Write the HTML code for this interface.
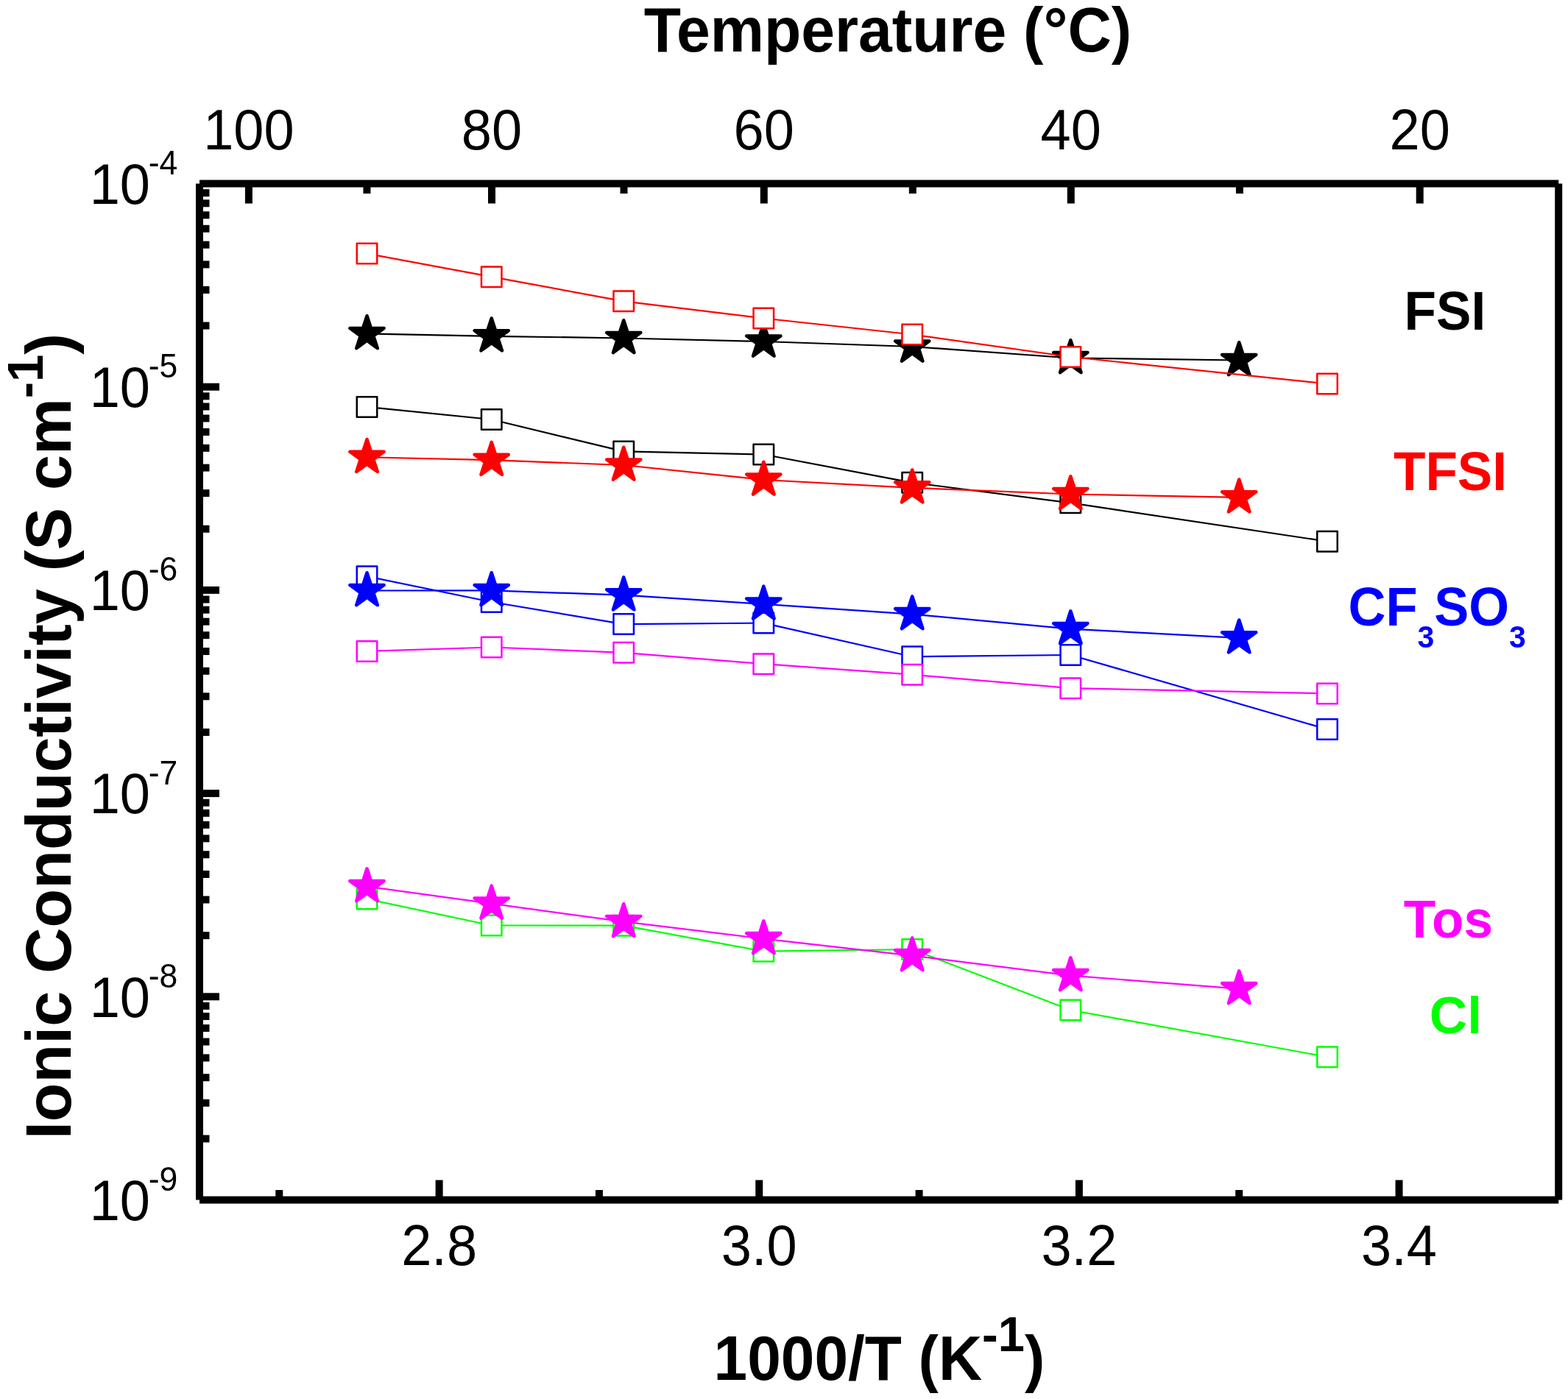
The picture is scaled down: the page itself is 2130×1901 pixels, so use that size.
<!DOCTYPE html>
<html><head><meta charset="utf-8"><title>Ionic Conductivity</title>
<style>html,body{margin:0;padding:0;background:#fff;}body{width:2130px;height:1901px;overflow:hidden;}svg{display:block;}</style>
</head><body>
<svg width="2130" height="1901" viewBox="0 0 2130 1901">
<rect x="0" y="0" width="2130" height="1901" fill="#fff"/>
<polyline points="498.5,453.5 667.7,456.8 847.2,459.5 1037.3,464.0 1239.2,471.0 1454.3,486.5 1683.2,489.5" fill="none" stroke="#000000" stroke-width="2.2" stroke-linejoin="round"/>
<path d="M498.50,429.20 L503.96,445.99 L521.61,445.99 L507.33,456.37 L512.78,473.16 L498.50,462.78 L484.22,473.16 L489.67,456.37 L475.39,445.99 L493.04,445.99 Z" fill="#000000" stroke="#000000" stroke-width="4.5" stroke-linejoin="round"/>
<path d="M667.70,432.50 L673.16,449.29 L690.81,449.29 L676.53,459.67 L681.98,476.46 L667.70,466.08 L653.42,476.46 L658.87,459.67 L644.59,449.29 L662.24,449.29 Z" fill="#000000" stroke="#000000" stroke-width="4.5" stroke-linejoin="round"/>
<path d="M847.20,435.20 L852.66,451.99 L870.31,451.99 L856.03,462.37 L861.48,479.16 L847.20,468.78 L832.92,479.16 L838.37,462.37 L824.09,451.99 L841.74,451.99 Z" fill="#000000" stroke="#000000" stroke-width="4.5" stroke-linejoin="round"/>
<path d="M1037.30,439.70 L1042.76,456.49 L1060.41,456.49 L1046.13,466.87 L1051.58,483.66 L1037.30,473.28 L1023.02,483.66 L1028.47,466.87 L1014.19,456.49 L1031.84,456.49 Z" fill="#000000" stroke="#000000" stroke-width="4.5" stroke-linejoin="round"/>
<path d="M1239.20,446.70 L1244.66,463.49 L1262.31,463.49 L1248.03,473.87 L1253.48,490.66 L1239.20,480.28 L1224.92,490.66 L1230.37,473.87 L1216.09,463.49 L1233.74,463.49 Z" fill="#000000" stroke="#000000" stroke-width="4.5" stroke-linejoin="round"/>
<path d="M1454.30,462.20 L1459.76,478.99 L1477.41,478.99 L1463.13,489.37 L1468.58,506.16 L1454.30,495.78 L1440.02,506.16 L1445.47,489.37 L1431.19,478.99 L1448.84,478.99 Z" fill="#000000" stroke="#000000" stroke-width="4.5" stroke-linejoin="round"/>
<path d="M1683.20,465.20 L1688.66,481.99 L1706.31,481.99 L1692.03,492.37 L1697.48,509.16 L1683.20,498.78 L1668.92,509.16 L1674.37,492.37 L1660.09,481.99 L1677.74,481.99 Z" fill="#000000" stroke="#000000" stroke-width="4.5" stroke-linejoin="round"/>
<polyline points="498.5,344.5 667.7,376.2 847.2,409.3 1037.3,432.5 1239.2,454.5 1454.3,485.0 1803.0,521.5" fill="none" stroke="#ff0000" stroke-width="2.2" stroke-linejoin="round"/>
<rect x="484.75" y="330.75" width="27.5" height="27.5" fill="#fff" stroke="#ff0000" stroke-width="2.5" stroke-linejoin="round"/>
<rect x="653.95" y="362.45" width="27.5" height="27.5" fill="#fff" stroke="#ff0000" stroke-width="2.5" stroke-linejoin="round"/>
<rect x="833.45" y="395.55" width="27.5" height="27.5" fill="#fff" stroke="#ff0000" stroke-width="2.5" stroke-linejoin="round"/>
<rect x="1023.55" y="418.75" width="27.5" height="27.5" fill="#fff" stroke="#ff0000" stroke-width="2.5" stroke-linejoin="round"/>
<rect x="1225.45" y="440.75" width="27.5" height="27.5" fill="#fff" stroke="#ff0000" stroke-width="2.5" stroke-linejoin="round"/>
<rect x="1440.55" y="471.25" width="27.5" height="27.5" fill="#fff" stroke="#ff0000" stroke-width="2.5" stroke-linejoin="round"/>
<rect x="1789.25" y="507.75" width="27.5" height="27.5" fill="#fff" stroke="#ff0000" stroke-width="2.5" stroke-linejoin="round"/>
<polyline points="498.5,552.9 667.7,570.0 847.2,613.4 1037.3,617.5 1239.2,655.8 1454.3,683.3 1803.0,735.7" fill="none" stroke="#000000" stroke-width="2.2" stroke-linejoin="round"/>
<rect x="484.75" y="539.15" width="27.5" height="27.5" fill="#fff" stroke="#000000" stroke-width="2.5" stroke-linejoin="round"/>
<rect x="653.95" y="556.25" width="27.5" height="27.5" fill="#fff" stroke="#000000" stroke-width="2.5" stroke-linejoin="round"/>
<rect x="833.45" y="599.65" width="27.5" height="27.5" fill="#fff" stroke="#000000" stroke-width="2.5" stroke-linejoin="round"/>
<rect x="1023.55" y="603.75" width="27.5" height="27.5" fill="#fff" stroke="#000000" stroke-width="2.5" stroke-linejoin="round"/>
<rect x="1225.45" y="642.05" width="27.5" height="27.5" fill="#fff" stroke="#000000" stroke-width="2.5" stroke-linejoin="round"/>
<rect x="1440.55" y="669.55" width="27.5" height="27.5" fill="#fff" stroke="#000000" stroke-width="2.5" stroke-linejoin="round"/>
<rect x="1789.25" y="721.95" width="27.5" height="27.5" fill="#fff" stroke="#000000" stroke-width="2.5" stroke-linejoin="round"/>
<polyline points="498.5,621.3 667.7,625.2 847.2,632.0 1037.3,652.0 1239.2,662.8 1454.3,671.5 1683.2,675.8" fill="none" stroke="#ff0000" stroke-width="2.2" stroke-linejoin="round"/>
<path d="M498.50,597.00 L503.96,613.79 L521.61,613.79 L507.33,624.17 L512.78,640.96 L498.50,630.58 L484.22,640.96 L489.67,624.17 L475.39,613.79 L493.04,613.79 Z" fill="#ff0000" stroke="#ff0000" stroke-width="4.5" stroke-linejoin="round"/>
<path d="M667.70,600.90 L673.16,617.69 L690.81,617.69 L676.53,628.07 L681.98,644.86 L667.70,634.48 L653.42,644.86 L658.87,628.07 L644.59,617.69 L662.24,617.69 Z" fill="#ff0000" stroke="#ff0000" stroke-width="4.5" stroke-linejoin="round"/>
<path d="M847.20,607.70 L852.66,624.49 L870.31,624.49 L856.03,634.87 L861.48,651.66 L847.20,641.28 L832.92,651.66 L838.37,634.87 L824.09,624.49 L841.74,624.49 Z" fill="#ff0000" stroke="#ff0000" stroke-width="4.5" stroke-linejoin="round"/>
<path d="M1037.30,627.70 L1042.76,644.49 L1060.41,644.49 L1046.13,654.87 L1051.58,671.66 L1037.30,661.28 L1023.02,671.66 L1028.47,654.87 L1014.19,644.49 L1031.84,644.49 Z" fill="#ff0000" stroke="#ff0000" stroke-width="4.5" stroke-linejoin="round"/>
<path d="M1239.20,638.50 L1244.66,655.29 L1262.31,655.29 L1248.03,665.67 L1253.48,682.46 L1239.20,672.08 L1224.92,682.46 L1230.37,665.67 L1216.09,655.29 L1233.74,655.29 Z" fill="#ff0000" stroke="#ff0000" stroke-width="4.5" stroke-linejoin="round"/>
<path d="M1454.30,647.20 L1459.76,663.99 L1477.41,663.99 L1463.13,674.37 L1468.58,691.16 L1454.30,680.78 L1440.02,691.16 L1445.47,674.37 L1431.19,663.99 L1448.84,663.99 Z" fill="#ff0000" stroke="#ff0000" stroke-width="4.5" stroke-linejoin="round"/>
<path d="M1683.20,651.50 L1688.66,668.29 L1706.31,668.29 L1692.03,678.67 L1697.48,695.46 L1683.20,685.08 L1668.92,695.46 L1674.37,678.67 L1660.09,668.29 L1677.74,668.29 Z" fill="#ff0000" stroke="#ff0000" stroke-width="4.5" stroke-linejoin="round"/>
<polyline points="498.5,783.2 667.7,818.0 847.2,848.1 1037.3,846.6 1239.2,892.3 1454.3,890.0 1803.0,991.0" fill="none" stroke="#0000ff" stroke-width="2.2" stroke-linejoin="round"/>
<rect x="484.75" y="769.45" width="27.5" height="27.5" fill="#fff" stroke="#0000ff" stroke-width="2.5" stroke-linejoin="round"/>
<rect x="653.95" y="804.25" width="27.5" height="27.5" fill="#fff" stroke="#0000ff" stroke-width="2.5" stroke-linejoin="round"/>
<rect x="833.45" y="834.35" width="27.5" height="27.5" fill="#fff" stroke="#0000ff" stroke-width="2.5" stroke-linejoin="round"/>
<rect x="1023.55" y="832.85" width="27.5" height="27.5" fill="#fff" stroke="#0000ff" stroke-width="2.5" stroke-linejoin="round"/>
<rect x="1225.45" y="878.55" width="27.5" height="27.5" fill="#fff" stroke="#0000ff" stroke-width="2.5" stroke-linejoin="round"/>
<rect x="1440.55" y="876.25" width="27.5" height="27.5" fill="#fff" stroke="#0000ff" stroke-width="2.5" stroke-linejoin="round"/>
<rect x="1789.25" y="977.25" width="27.5" height="27.5" fill="#fff" stroke="#0000ff" stroke-width="2.5" stroke-linejoin="round"/>
<polyline points="498.5,802.5 667.7,802.4 847.2,808.7 1037.3,820.9 1239.2,834.6 1454.3,854.6 1683.2,866.8" fill="none" stroke="#0000ff" stroke-width="2.2" stroke-linejoin="round"/>
<path d="M498.50,778.20 L503.96,794.99 L521.61,794.99 L507.33,805.37 L512.78,822.16 L498.50,811.78 L484.22,822.16 L489.67,805.37 L475.39,794.99 L493.04,794.99 Z" fill="#0000ff" stroke="#0000ff" stroke-width="4.5" stroke-linejoin="round"/>
<path d="M667.70,778.10 L673.16,794.89 L690.81,794.89 L676.53,805.27 L681.98,822.06 L667.70,811.68 L653.42,822.06 L658.87,805.27 L644.59,794.89 L662.24,794.89 Z" fill="#0000ff" stroke="#0000ff" stroke-width="4.5" stroke-linejoin="round"/>
<path d="M847.20,784.40 L852.66,801.19 L870.31,801.19 L856.03,811.57 L861.48,828.36 L847.20,817.98 L832.92,828.36 L838.37,811.57 L824.09,801.19 L841.74,801.19 Z" fill="#0000ff" stroke="#0000ff" stroke-width="4.5" stroke-linejoin="round"/>
<path d="M1037.30,796.60 L1042.76,813.39 L1060.41,813.39 L1046.13,823.77 L1051.58,840.56 L1037.30,830.18 L1023.02,840.56 L1028.47,823.77 L1014.19,813.39 L1031.84,813.39 Z" fill="#0000ff" stroke="#0000ff" stroke-width="4.5" stroke-linejoin="round"/>
<path d="M1239.20,810.30 L1244.66,827.09 L1262.31,827.09 L1248.03,837.47 L1253.48,854.26 L1239.20,843.88 L1224.92,854.26 L1230.37,837.47 L1216.09,827.09 L1233.74,827.09 Z" fill="#0000ff" stroke="#0000ff" stroke-width="4.5" stroke-linejoin="round"/>
<path d="M1454.30,830.30 L1459.76,847.09 L1477.41,847.09 L1463.13,857.47 L1468.58,874.26 L1454.30,863.88 L1440.02,874.26 L1445.47,857.47 L1431.19,847.09 L1448.84,847.09 Z" fill="#0000ff" stroke="#0000ff" stroke-width="4.5" stroke-linejoin="round"/>
<path d="M1683.20,842.50 L1688.66,859.29 L1706.31,859.29 L1692.03,869.67 L1697.48,886.46 L1683.20,876.08 L1668.92,886.46 L1674.37,869.67 L1660.09,859.29 L1677.74,859.29 Z" fill="#0000ff" stroke="#0000ff" stroke-width="4.5" stroke-linejoin="round"/>
<polyline points="498.5,885.0 667.7,879.5 847.2,886.8 1037.3,902.2 1239.2,916.7 1454.3,935.2 1803.0,942.4" fill="none" stroke="#ff00ff" stroke-width="2.2" stroke-linejoin="round"/>
<rect x="484.75" y="871.25" width="27.5" height="27.5" fill="#fff" stroke="#ff00ff" stroke-width="2.5" stroke-linejoin="round"/>
<rect x="653.95" y="865.75" width="27.5" height="27.5" fill="#fff" stroke="#ff00ff" stroke-width="2.5" stroke-linejoin="round"/>
<rect x="833.45" y="873.05" width="27.5" height="27.5" fill="#fff" stroke="#ff00ff" stroke-width="2.5" stroke-linejoin="round"/>
<rect x="1023.55" y="888.45" width="27.5" height="27.5" fill="#fff" stroke="#ff00ff" stroke-width="2.5" stroke-linejoin="round"/>
<rect x="1225.45" y="902.95" width="27.5" height="27.5" fill="#fff" stroke="#ff00ff" stroke-width="2.5" stroke-linejoin="round"/>
<rect x="1440.55" y="921.45" width="27.5" height="27.5" fill="#fff" stroke="#ff00ff" stroke-width="2.5" stroke-linejoin="round"/>
<rect x="1789.25" y="928.65" width="27.5" height="27.5" fill="#fff" stroke="#ff00ff" stroke-width="2.5" stroke-linejoin="round"/>
<polyline points="498.5,1221.5 667.7,1257.5 847.2,1257.7 1037.3,1292.7 1239.2,1290.0 1454.3,1372.5 1803.0,1436.2" fill="none" stroke="#00ff00" stroke-width="2.2" stroke-linejoin="round"/>
<rect x="484.75" y="1207.75" width="27.5" height="27.5" fill="#fff" stroke="#00ff00" stroke-width="2.5" stroke-linejoin="round"/>
<rect x="653.95" y="1243.75" width="27.5" height="27.5" fill="#fff" stroke="#00ff00" stroke-width="2.5" stroke-linejoin="round"/>
<rect x="833.45" y="1243.95" width="27.5" height="27.5" fill="#fff" stroke="#00ff00" stroke-width="2.5" stroke-linejoin="round"/>
<rect x="1023.55" y="1278.95" width="27.5" height="27.5" fill="#fff" stroke="#00ff00" stroke-width="2.5" stroke-linejoin="round"/>
<rect x="1225.45" y="1276.25" width="27.5" height="27.5" fill="#fff" stroke="#00ff00" stroke-width="2.5" stroke-linejoin="round"/>
<rect x="1440.55" y="1358.75" width="27.5" height="27.5" fill="#fff" stroke="#00ff00" stroke-width="2.5" stroke-linejoin="round"/>
<rect x="1789.25" y="1422.45" width="27.5" height="27.5" fill="#fff" stroke="#00ff00" stroke-width="2.5" stroke-linejoin="round"/>
<polyline points="498.5,1204.6 667.7,1227.9 847.2,1252.4 1037.3,1275.6 1239.2,1298.6 1454.3,1325.6 1683.2,1343.6" fill="none" stroke="#ff00ff" stroke-width="2.2" stroke-linejoin="round"/>
<path d="M498.50,1180.30 L503.96,1197.09 L521.61,1197.09 L507.33,1207.47 L512.78,1224.26 L498.50,1213.88 L484.22,1224.26 L489.67,1207.47 L475.39,1197.09 L493.04,1197.09 Z" fill="#ff00ff" stroke="#ff00ff" stroke-width="4.5" stroke-linejoin="round"/>
<path d="M667.70,1203.60 L673.16,1220.39 L690.81,1220.39 L676.53,1230.77 L681.98,1247.56 L667.70,1237.18 L653.42,1247.56 L658.87,1230.77 L644.59,1220.39 L662.24,1220.39 Z" fill="#ff00ff" stroke="#ff00ff" stroke-width="4.5" stroke-linejoin="round"/>
<path d="M847.20,1228.10 L852.66,1244.89 L870.31,1244.89 L856.03,1255.27 L861.48,1272.06 L847.20,1261.68 L832.92,1272.06 L838.37,1255.27 L824.09,1244.89 L841.74,1244.89 Z" fill="#ff00ff" stroke="#ff00ff" stroke-width="4.5" stroke-linejoin="round"/>
<path d="M1037.30,1251.30 L1042.76,1268.09 L1060.41,1268.09 L1046.13,1278.47 L1051.58,1295.26 L1037.30,1284.88 L1023.02,1295.26 L1028.47,1278.47 L1014.19,1268.09 L1031.84,1268.09 Z" fill="#ff00ff" stroke="#ff00ff" stroke-width="4.5" stroke-linejoin="round"/>
<path d="M1239.20,1274.30 L1244.66,1291.09 L1262.31,1291.09 L1248.03,1301.47 L1253.48,1318.26 L1239.20,1307.88 L1224.92,1318.26 L1230.37,1301.47 L1216.09,1291.09 L1233.74,1291.09 Z" fill="#ff00ff" stroke="#ff00ff" stroke-width="4.5" stroke-linejoin="round"/>
<path d="M1454.30,1301.30 L1459.76,1318.09 L1477.41,1318.09 L1463.13,1328.47 L1468.58,1345.26 L1454.30,1334.88 L1440.02,1345.26 L1445.47,1328.47 L1431.19,1318.09 L1448.84,1318.09 Z" fill="#ff00ff" stroke="#ff00ff" stroke-width="4.5" stroke-linejoin="round"/>
<path d="M1683.20,1319.30 L1688.66,1336.09 L1706.31,1336.09 L1692.03,1346.47 L1697.48,1363.26 L1683.20,1352.88 L1668.92,1363.26 L1674.37,1346.47 L1660.09,1336.09 L1677.74,1336.09 Z" fill="#ff00ff" stroke="#ff00ff" stroke-width="4.5" stroke-linejoin="round"/>
<g stroke="#000" stroke-width="10" fill="none">
<line x1="271.0" y1="249.5" x2="2117.2" y2="249.5"/>
<line x1="271.0" y1="1630.5" x2="2117.2" y2="1630.5"/>
<line x1="271.0" y1="249.5" x2="271.0" y2="1630.5"/>
<line x1="2117.2" y1="249.5" x2="2117.2" y2="1630.5"/>
<line x1="379.28" y1="1630.5" x2="379.28" y2="1617.0"/>
<line x1="596.60" y1="1630.5" x2="596.60" y2="1603.5"/>
<line x1="813.92" y1="1630.5" x2="813.92" y2="1617.0"/>
<line x1="1031.24" y1="1630.5" x2="1031.24" y2="1603.5"/>
<line x1="1248.56" y1="1630.5" x2="1248.56" y2="1617.0"/>
<line x1="1465.88" y1="1630.5" x2="1465.88" y2="1603.5"/>
<line x1="1683.20" y1="1630.5" x2="1683.20" y2="1617.0"/>
<line x1="1900.52" y1="1630.5" x2="1900.52" y2="1603.5"/>
<line x1="337.91" y1="249.5" x2="337.91" y2="276.5"/>
<line x1="498.42" y1="249.5" x2="498.42" y2="263.0"/>
<line x1="668.01" y1="249.5" x2="668.01" y2="276.5"/>
<line x1="847.50" y1="249.5" x2="847.50" y2="263.0"/>
<line x1="1037.77" y1="249.5" x2="1037.77" y2="276.5"/>
<line x1="1239.81" y1="249.5" x2="1239.81" y2="263.0"/>
<line x1="1454.77" y1="249.5" x2="1454.77" y2="276.5"/>
<line x1="1683.92" y1="249.5" x2="1683.92" y2="263.0"/>
<line x1="1928.70" y1="249.5" x2="1928.70" y2="276.5"/>
<line x1="271.0" y1="442.56" x2="284.5" y2="442.56"/>
<line x1="271.0" y1="393.92" x2="284.5" y2="393.92"/>
<line x1="271.0" y1="359.41" x2="284.5" y2="359.41"/>
<line x1="271.0" y1="332.64" x2="284.5" y2="332.64"/>
<line x1="271.0" y1="310.77" x2="284.5" y2="310.77"/>
<line x1="271.0" y1="292.28" x2="284.5" y2="292.28"/>
<line x1="271.0" y1="276.27" x2="284.5" y2="276.27"/>
<line x1="271.0" y1="262.14" x2="284.5" y2="262.14"/>
<line x1="271.0" y1="525.70" x2="298.0" y2="525.70"/>
<line x1="271.0" y1="718.76" x2="284.5" y2="718.76"/>
<line x1="271.0" y1="670.12" x2="284.5" y2="670.12"/>
<line x1="271.0" y1="635.61" x2="284.5" y2="635.61"/>
<line x1="271.0" y1="608.84" x2="284.5" y2="608.84"/>
<line x1="271.0" y1="586.97" x2="284.5" y2="586.97"/>
<line x1="271.0" y1="568.48" x2="284.5" y2="568.48"/>
<line x1="271.0" y1="552.47" x2="284.5" y2="552.47"/>
<line x1="271.0" y1="538.34" x2="284.5" y2="538.34"/>
<line x1="271.0" y1="801.90" x2="298.0" y2="801.90"/>
<line x1="271.0" y1="994.96" x2="284.5" y2="994.96"/>
<line x1="271.0" y1="946.32" x2="284.5" y2="946.32"/>
<line x1="271.0" y1="911.81" x2="284.5" y2="911.81"/>
<line x1="271.0" y1="885.04" x2="284.5" y2="885.04"/>
<line x1="271.0" y1="863.17" x2="284.5" y2="863.17"/>
<line x1="271.0" y1="844.68" x2="284.5" y2="844.68"/>
<line x1="271.0" y1="828.67" x2="284.5" y2="828.67"/>
<line x1="271.0" y1="814.54" x2="284.5" y2="814.54"/>
<line x1="271.0" y1="1078.10" x2="298.0" y2="1078.10"/>
<line x1="271.0" y1="1271.16" x2="284.5" y2="1271.16"/>
<line x1="271.0" y1="1222.52" x2="284.5" y2="1222.52"/>
<line x1="271.0" y1="1188.01" x2="284.5" y2="1188.01"/>
<line x1="271.0" y1="1161.24" x2="284.5" y2="1161.24"/>
<line x1="271.0" y1="1139.37" x2="284.5" y2="1139.37"/>
<line x1="271.0" y1="1120.88" x2="284.5" y2="1120.88"/>
<line x1="271.0" y1="1104.87" x2="284.5" y2="1104.87"/>
<line x1="271.0" y1="1090.74" x2="284.5" y2="1090.74"/>
<line x1="271.0" y1="1354.30" x2="298.0" y2="1354.30"/>
<line x1="271.0" y1="1547.36" x2="284.5" y2="1547.36"/>
<line x1="271.0" y1="1498.72" x2="284.5" y2="1498.72"/>
<line x1="271.0" y1="1464.21" x2="284.5" y2="1464.21"/>
<line x1="271.0" y1="1437.44" x2="284.5" y2="1437.44"/>
<line x1="271.0" y1="1415.57" x2="284.5" y2="1415.57"/>
<line x1="271.0" y1="1397.08" x2="284.5" y2="1397.08"/>
<line x1="271.0" y1="1381.07" x2="284.5" y2="1381.07"/>
<line x1="271.0" y1="1366.94" x2="284.5" y2="1366.94"/>
</g>
<text x="0" y="0" transform="translate(1206.00,69.60) scale(1,1.0350)" font-family="'Liberation Sans', Arial, sans-serif" font-size="82.3" font-weight="bold" text-anchor="middle" fill="#000">Temperature (°C)</text>
<text x="0" y="0" transform="translate(337.91,202.90) scale(1,1.0550)" font-family="'Liberation Sans', Arial, sans-serif" font-size="74" text-anchor="middle" fill="#000">100</text>
<text x="0" y="0" transform="translate(668.01,202.90) scale(1,1.0550)" font-family="'Liberation Sans', Arial, sans-serif" font-size="74" text-anchor="middle" fill="#000">80</text>
<text x="0" y="0" transform="translate(1037.77,202.90) scale(1,1.0550)" font-family="'Liberation Sans', Arial, sans-serif" font-size="74" text-anchor="middle" fill="#000">60</text>
<text x="0" y="0" transform="translate(1454.77,202.90) scale(1,1.0550)" font-family="'Liberation Sans', Arial, sans-serif" font-size="74" text-anchor="middle" fill="#000">40</text>
<text x="0" y="0" transform="translate(1928.70,202.90) scale(1,1.0550)" font-family="'Liberation Sans', Arial, sans-serif" font-size="74" text-anchor="middle" fill="#000">20</text>
<text x="0" y="0" transform="translate(596.60,1719.30) scale(1,1.0550)" font-family="'Liberation Sans', Arial, sans-serif" font-size="74" text-anchor="middle" fill="#000">2.8</text>
<text x="0" y="0" transform="translate(1031.24,1719.30) scale(1,1.0550)" font-family="'Liberation Sans', Arial, sans-serif" font-size="74" text-anchor="middle" fill="#000">3.0</text>
<text x="0" y="0" transform="translate(1465.88,1719.30) scale(1,1.0550)" font-family="'Liberation Sans', Arial, sans-serif" font-size="74" text-anchor="middle" fill="#000">3.2</text>
<text x="0" y="0" transform="translate(1900.52,1719.30) scale(1,1.0550)" font-family="'Liberation Sans', Arial, sans-serif" font-size="74" text-anchor="middle" fill="#000">3.4</text>
<text x="0" y="0" transform="translate(121.70,276.80) scale(1,1.0550)" font-family="'Liberation Sans', Arial, sans-serif" font-size="74" text-anchor="start" fill="#000">10</text>
<text x="0" y="0" transform="translate(201.70,236.90) scale(1,1.0400)" font-family="'Liberation Sans', Arial, sans-serif" font-size="44.5" text-anchor="start" fill="#000">-4</text>
<text x="0" y="0" transform="translate(121.70,553.00) scale(1,1.0550)" font-family="'Liberation Sans', Arial, sans-serif" font-size="74" text-anchor="start" fill="#000">10</text>
<text x="0" y="0" transform="translate(201.70,513.10) scale(1,1.0400)" font-family="'Liberation Sans', Arial, sans-serif" font-size="44.5" text-anchor="start" fill="#000">-5</text>
<text x="0" y="0" transform="translate(121.70,829.20) scale(1,1.0550)" font-family="'Liberation Sans', Arial, sans-serif" font-size="74" text-anchor="start" fill="#000">10</text>
<text x="0" y="0" transform="translate(201.70,789.30) scale(1,1.0400)" font-family="'Liberation Sans', Arial, sans-serif" font-size="44.5" text-anchor="start" fill="#000">-6</text>
<text x="0" y="0" transform="translate(121.70,1105.40) scale(1,1.0550)" font-family="'Liberation Sans', Arial, sans-serif" font-size="74" text-anchor="start" fill="#000">10</text>
<text x="0" y="0" transform="translate(201.70,1065.50) scale(1,1.0400)" font-family="'Liberation Sans', Arial, sans-serif" font-size="44.5" text-anchor="start" fill="#000">-7</text>
<text x="0" y="0" transform="translate(121.70,1381.60) scale(1,1.0550)" font-family="'Liberation Sans', Arial, sans-serif" font-size="74" text-anchor="start" fill="#000">10</text>
<text x="0" y="0" transform="translate(201.70,1341.70) scale(1,1.0400)" font-family="'Liberation Sans', Arial, sans-serif" font-size="44.5" text-anchor="start" fill="#000">-8</text>
<text x="0" y="0" transform="translate(121.70,1657.80) scale(1,1.0550)" font-family="'Liberation Sans', Arial, sans-serif" font-size="74" text-anchor="start" fill="#000">10</text>
<text x="0" y="0" transform="translate(201.70,1617.90) scale(1,1.0400)" font-family="'Liberation Sans', Arial, sans-serif" font-size="44.5" text-anchor="start" fill="#000">-9</text>
<text x="0" y="0" transform="translate(969.6,1874.9) scale(1,1.03)" font-family="'Liberation Sans', Arial, sans-serif" font-size="82" font-weight="bold">1000/T (K<tspan font-size="65" dy="-38">-1</tspan><tspan dy="38">)</tspan></text>
<text x="0" y="0" transform="translate(96,1548.1000000000001) rotate(-90) scale(1,1.02)" font-family="'Liberation Sans', Arial, sans-serif" font-size="86.3" font-weight="bold">Ionic Conductivity (S cm<tspan font-size="67" dy="-37">-1</tspan><tspan dy="37">)</tspan></text>
<text x="0" y="0" transform="translate(1962.90,448.10) scale(1,1.0400)" font-family="'Liberation Sans', Arial, sans-serif" font-size="71.1" font-weight="bold" text-anchor="middle" fill="#000000">FSI</text>
<text x="0" y="0" transform="translate(1970.00,665.60) scale(1,1.0400)" font-family="'Liberation Sans', Arial, sans-serif" font-size="71.1" font-weight="bold" text-anchor="middle" fill="#ff0000">TFSI</text>
<text x="0" y="0" transform="translate(1831.5,849.9) scale(1,1.04)" font-family="'Liberation Sans', Arial, sans-serif" font-size="70.5" font-weight="bold" fill="#0000ff">CF<tspan font-size="41" dy="29">3</tspan><tspan dy="-29">SO</tspan><tspan font-size="41" dy="29">3</tspan></text>
<text x="0" y="0" transform="translate(1967.40,1273.70) scale(1,1.0200)" font-family="'Liberation Sans', Arial, sans-serif" font-size="71.1" font-weight="bold" text-anchor="middle" fill="#ff00ff">Tos</text>
<text x="0" y="0" transform="translate(1977.40,1404.30) scale(1,1.0000)" font-family="'Liberation Sans', Arial, sans-serif" font-size="71.1" font-weight="bold" text-anchor="middle" fill="#00ff00">Cl</text>
</svg>
</body></html>
